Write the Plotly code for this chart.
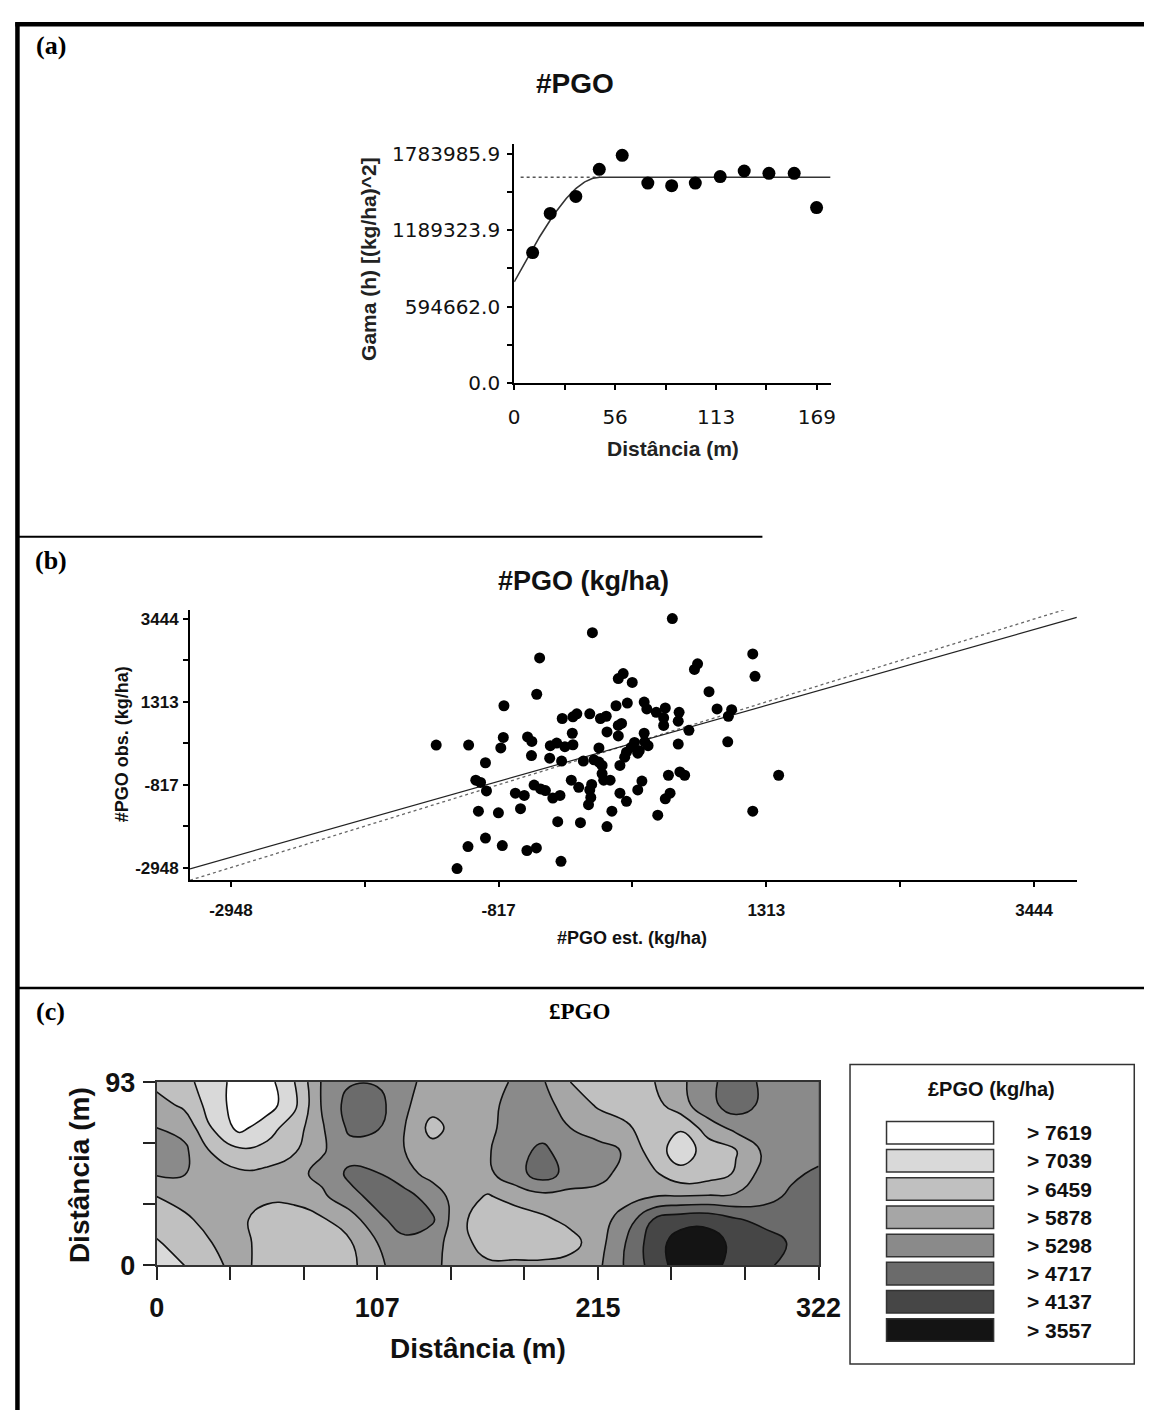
import plotly.graph_objects as go

W, H = 1167, 1425

# ---------------- (a) semivariogram ----------------
lag_dist = [10.3, 20.1, 34.4, 47.5, 60.3, 74.6, 87.9, 101.1, 115.0, 128.4, 142.2, 156.3, 168.8]
semivar = [1015000, 1319600, 1451600, 1662200, 1771300, 1555600, 1535300, 1555600,
           1606400, 1649500, 1631700, 1631700, 1365300]
nugget = 786700
sill = 1601300
model_range = 48.0
sill_line_start = 3.6
a_xticks = [0, 28.17, 56.33, 84.5, 112.67, 140.83, 169]
a_xticktext = ['0', '', '56', '', '113', '', '169']
a_yticks = [0, 297331, 594662, 891993, 1189324, 1486655, 1783986]
a_yticktext = ['0.0', '', '594662.0', '', '1189323.9', '', '1783985.9']

# ---------------- (b) cross validation ----------------
est = [-1314, -1056, -922, -999, -961, -914, -978, -922, -1061, -1148,
       565, -71, -491, 1205, 1223, 766, 741, 174, 135, 246,
       -514, 857, -775, 117, 207, 341, 362, 437, 509, 619,
       612, 496, 496, 921, 1037, 1011, -311, -226, -195, -92,
       -7, 39, 135, 161, 45, 135, -231, 341, 697, 612,
       1006, -780, -800, -587, -553, -406, -355, -290, -226, -556,
       -411, -316, -143, -19, 264, 238, 200, 186, 346, 372,
       302, 290, -58, -19, 6, 148, 6, 19, 70, -239,
       -180, -77, -92, 323, 290, 534, 625, 663, 1411, -535,
       -483, -445, -684, -613, -386, -329, 148, 200, 547, 509,
       -84, -102, -819, -643, 84, 449, 1205, -347, -166, 45,
       -788, -592, -517, -321]
obs = [203, 203, -252, -699, -757, -977, -1498, -2190, -2407, -2973,
       3456, 3092, 2445, 2546, 1972, 2293, 2149, 2041, 1914, 1813,
       1510, 1576, 1214, 1214, 1283, 1308, 1131, 1045, 1156, 1045,
       818, 903, 709, 1131, 1113, 944, 886, 929, 1005, 1005,
       886, 944, 709, 759, 540, 438, 507, 507, 582, 229,
       287, 398, 128, 413, 297, 186, 254, 160, 211, -67,
       -133, -209, -209, 128, 272, 145, 19, -108, 287, 186,
       59, -6, -176, -234, -320, -320, -530, -699, -699, -699,
       -883, -808, -952, -724, -952, -573, -487, -573, -573, -825,
       -926, -967, -1035, -1093, -1161, -1093, -1035, -1245, -1035, -1179,
       -1144, -1331, -1540, -1432, -1497, -1599, -1497, -1768, -1793, -1894,
       -2382, -2508, -2443, -2786]
reg_x = [-3273, 3784]
reg_y = [-2981, 3487]
one_x = [-3273, 3784]
one_y = [-3273, 3784]
b_xrange = [-3273, 3784]
b_yrange = [-3277, 3671]
b_ticks = [-2948, -1882.75, -817.5, 247.75, 1313, 2378.25, 3444]
b_ticktext = ['-2948', '', '-817', '', '1313', '', '3444']

# ---------------- (c) kriging map ----------------
map_x = [0, 13.4, 26.8, 40.3, 53.7, 67.1, 80.5, 93.9, 107.3, 120.8, 134.2, 147.6, 161,
         174.4, 187.8, 201.3, 214.7, 228.1, 241.5, 254.9, 268.3, 281.8, 295.2, 308.6, 322]
map_y = [0, 11.6, 23.3, 34.9, 46.5, 58.1, 69.8, 81.4, 93]
map_z = [
    [7331, 7041, 6634, 6228, 6750, 6808, 6808, 6634, 5996, 5589, 5705, 6228, 6344, 6344, 6344, 6228, 5996, 5241, 4486, 3847, 3905, 4370, 4602, 4892, 5067],
    [7099, 6750, 6460, 6228, 6750, 6808, 6808, 6518, 5879, 5415, 5647, 6228, 6750, 6808, 6808, 6692, 6112, 5299, 4428, 3847, 3847, 4312, 4428, 4776, 5008],
    [6750, 6576, 6228, 6344, 6692, 6750, 6518, 6170, 5415, 5067, 5212, 6344, 6750, 6808, 6576, 6286, 6112, 5647, 4718, 4370, 4312, 4660, 4892, 5008, 5067],
    [6460, 6228, 6170, 6286, 6344, 6286, 5996, 5473, 5125, 5067, 5589, 6170, 6518, 6228, 6054, 6054, 6112, 6054, 5879, 5850, 5821, 5792, 5531, 5183, 5067],
    [5821, 5850, 6286, 6344, 6286, 6054, 5705, 5183, 5270, 5705, 6054, 6170, 5996, 5531, 5008, 5531, 5647, 6112, 6344, 6866, 6750, 6402, 5647, 5415, 5183],
    [5589, 5763, 6489, 6924, 6866, 6518, 5937, 5531, 5589, 5879, 6228, 6170, 5937, 5473, 5183, 5589, 5647, 5937, 6750, 7331, 6808, 6489, 5792, 5589, 5531],
    [5879, 6054, 7041, 7795, 7273, 6750, 5937, 5183, 5241, 5879, 6663, 6170, 5996, 5647, 5531, 5879, 6170, 6344, 6808, 6982, 6170, 5705, 5589, 5589, 5647],
    [6228, 6576, 7273, 7912, 7912, 7157, 5821, 5067, 5067, 5792, 6228, 6170, 6054, 5647, 5647, 6170, 6518, 6750, 6692, 6112, 5473, 5008, 5415, 5589, 5589],
    [6634, 6866, 7331, 7853, 7853, 7041, 5821, 5357, 5357, 5705, 6112, 6170, 6054, 5821, 5821, 6460, 6750, 6750, 6489, 5996, 5473, 4950, 5415, 5589, 5589],
]
levels = [7619, 7039, 6459, 5878, 5298, 4717, 4137, 3557]
level_labels = ['> 7619', '> 7039', '> 6459', '> 5878', '> 5298', '> 4717', '> 4137', '> 3557']
level_colors = ['#ffffff', '#d9d9d9', '#c0c0c0', '#a6a6a6', '#8a8a8a', '#6b6b6b', '#464646', '#141414']
c_xticks = [0, 35.78, 71.56, 107.33, 143.11, 178.89, 214.67, 250.44, 286.22, 322]
c_xticktext = ['0', '', '', '107', '', '', '215', '', '', '322']
c_yticks = [0, 31, 62, 93]
c_yticktext = ['0', '', '', '93']


def X(p):
    return p / W


def Y(p):
    return 1 - p / H


SANS = 'Liberation Sans, Arial, sans-serif'
SERIF = 'Liberation Serif, Times New Roman, serif'
DEJA = 'DejaVu Sans, sans-serif'

fig = go.Figure()

# ---- (a) traces
h_curve = [i * 176.6 / 300 for i in range(301)]
g_curve = []
for h in h_curve:
    r = min(h / model_range, 1.0)
    g_curve.append(nugget + (sill - nugget) * (1.5 * r - 0.5 * r ** 3))
fig.add_trace(go.Scatter(x=[sill_line_start, model_range], y=[sill, sill], mode='lines',
                         line=dict(color='#555', width=1.5, dash='dot'),
                         xaxis='x', yaxis='y', showlegend=False))
fig.add_trace(go.Scatter(x=h_curve, y=g_curve, mode='lines', line=dict(color='#333', width=1.6),
                         xaxis='x', yaxis='y', showlegend=False))
fig.add_trace(go.Scatter(x=lag_dist, y=semivar, mode='markers',
                         marker=dict(color='#000', size=13),
                         xaxis='x', yaxis='y', showlegend=False))

# ---- (b) traces
fig.add_trace(go.Scatter(x=one_x, y=one_y, mode='lines',
                         line=dict(color='#666', width=1.3, dash='dot'),
                         xaxis='x2', yaxis='y2', showlegend=False))
fig.add_trace(go.Scatter(x=reg_x, y=reg_y, mode='lines', line=dict(color='#222', width=1.2),
                         xaxis='x2', yaxis='y2', showlegend=False))
fig.add_trace(go.Scatter(x=est, y=obs, mode='markers', marker=dict(color='#000', size=11),
                         xaxis='x2', yaxis='y2', showlegend=False))

# ---- (c) contour map
asc_colors = level_colors[::-1]  # lowest class first
cs = [[0.0, '#000000'], [0.0625, '#000000']]
for k, col in enumerate(asc_colors):
    lo = 0.0625 + 0.125 * k
    hi = min(lo + 0.125, 1.0)
    cs.append([lo, col])
    cs.append([hi, col])
cs[-1][0] = 1.0
step = (max(levels) - min(levels)) / (len(levels) - 1)
fig.add_trace(go.Contour(x=map_x, y=map_y, z=map_z,
                         contours=dict(start=min(levels), end=max(levels), size=step, coloring='fill'),
                         colorscale=cs, showscale=False,
                         line=dict(color='#111', width=1.6, smoothing=1.3),
                         xaxis='x3', yaxis='y3', hoverinfo='skip'))

axis_common = dict(showgrid=False, zeroline=False, showline=True, ticks='outside')

fig.update_layout(
    width=W, height=H,
    margin=dict(l=0, r=0, t=0, b=0),
    paper_bgcolor='white', plot_bgcolor='rgba(0,0,0,0)',
    showlegend=False,
    xaxis=dict(domain=[X(520), X(845)], range=[0, 176.6], anchor='y',
               tickvals=a_xticks, ticktext=a_xticktext, linewidth=2, linecolor='#000',
               ticklen=5, tickwidth=2, tickcolor='#000',
               tickfont=dict(family=DEJA, size=20, color='#111'),
               ticklabelstandoff=10, **axis_common),
    yaxis=dict(domain=[Y(376), Y(131.7)], range=[0, 1860100], anchor='x',
               tickvals=a_yticks, ticktext=a_yticktext, linewidth=2, linecolor='#000',
               ticklen=5, tickwidth=2, tickcolor='#000',
               tickfont=dict(family=DEJA, size=20, color='#111'),
               ticklabelstandoff=3, **axis_common),
    xaxis2=dict(domain=[X(187), X(1098)], range=b_xrange, anchor='y2',
                tickvals=b_ticks, ticktext=b_ticktext, linewidth=2, linecolor='#000',
                ticklen=5, tickwidth=2, tickcolor='#000',
                tickfont=dict(family=SANS, size=17, color='#111', weight='bold'),
                ticklabelstandoff=8, **axis_common),
    yaxis2=dict(domain=[Y(884), Y(608)], range=b_yrange, anchor='x2',
                tickvals=b_ticks, ticktext=b_ticktext, linewidth=2, linecolor='#000',
                ticklen=5, tickwidth=2, tickcolor='#000',
                tickfont=dict(family=SANS, size=17, color='#111', weight='bold'),
                ticklabelstandoff=1, **axis_common),
    xaxis3=dict(domain=[X(152.7), X(832.7)], range=[0, 322], anchor='y3',
                tickvals=c_xticks, ticktext=c_xticktext, linewidth=2, linecolor='#333',
                ticklen=13, tickwidth=1.5, tickcolor='#222', mirror=True,
                tickfont=dict(family=SANS, size=27, color='#111', weight='bold'),
                ticklabelstandoff=4, **axis_common),
    yaxis3=dict(domain=[Y(1277.3), Y(1090)], range=[0, 93], anchor='x3',
                tickvals=c_yticks, ticktext=c_yticktext, linewidth=2, linecolor='#333',
                ticklen=12, tickwidth=1.5, tickcolor='#222', mirror=True,
                tickfont=dict(family=SANS, size=27, color='#111', weight='bold'),
                ticklabelstandoff=2, **axis_common),
)

shapes = []
# outer frame and separators
shapes.append(dict(type='line', xref='paper', yref='paper', x0=X(7.5), x1=X(1167), y0=Y(9.5), y1=Y(9.5),
                   line=dict(color='#000', width=4.5)))
shapes.append(dict(type='line', xref='paper', yref='paper', x0=X(9.7), x1=X(9.7), y0=Y(7.5), y1=Y(1425),
                   line=dict(color='#000', width=4.5)))
shapes.append(dict(type='line', xref='paper', yref='paper', x0=X(9.7), x1=X(775), y0=Y(533), y1=Y(533),
                   line=dict(color='#000', width=2)))
shapes.append(dict(type='line', xref='paper', yref='paper', x0=X(9.7), x1=X(1167), y0=Y(994), y1=Y(994),
                   line=dict(color='#000', width=2.5)))
# legend box for map
shapes.append(dict(type='rect', xref='paper', yref='paper', x0=X(865), x1=X(1157), y0=Y(1378), y1=Y(1072),
                   line=dict(color='#333', width=1.5), fillcolor='white'))

annotations = []
row0, row_step, sw_h = 1141.7, 28.8, 23
for i, (lab, col) in enumerate(zip(level_labels, level_colors)):
    yc = row0 + i * row_step
    shapes.append(dict(type='rect', xref='paper', yref='paper', x0=X(902.5), x1=X(1012.5),
                       y0=Y(yc + sw_h / 2), y1=Y(yc - sw_h / 2),
                       line=dict(color='#333', width=1.5), fillcolor=col))
    annotations.append(dict(x=X(1045), y=Y(yc), xref='paper', yref='paper', text=lab, showarrow=False,
                            xanchor='left', yanchor='middle',
                            font=dict(family=SANS, size=21, color='#111', weight='bold')))


def ann(x, y, text, size, family=SANS, angle=0, weight='bold', color='#111'):
    annotations.append(dict(x=X(x), y=Y(y), xref='paper', yref='paper', text=text, showarrow=False,
                            xanchor='center', yanchor='middle', textangle=angle,
                            font=dict(family=family, size=size, color=color, weight=weight)))


ann(44, 31, '(a)', 26, SERIF, color='#000')
ann(44, 557, '(b)', 26, SERIF, color='#000')
ann(44, 1018, '(c)', 26, SERIF, color='#000')
ann(582, 70, '#PGO', 28)
ann(371, 249, 'Gama (h) [(kg/ha)^2]', 21, angle=-90, color='#222')
ann(683, 443, 'Distância (m)', 21, color='#222')
ann(591, 578, '#PGO (kg/ha)', 27)
ann(641, 943, '#PGO est. (kg/ha)', 18)
ann(117, 745, '#PGO obs. (kg/ha)', 18, angle=-90)
ann(587, 1018, '£PGO', 23, SERIF, color='#000')
ann(483, 1362, 'Distância (m)', 28)
ann(73, 1185, 'Distância (m)', 28, angle=-90)
ann(1010, 1097, '£PGO (kg/ha)', 20)

fig.update_layout(shapes=shapes, annotations=annotations)
fig.write_html('out.html')
